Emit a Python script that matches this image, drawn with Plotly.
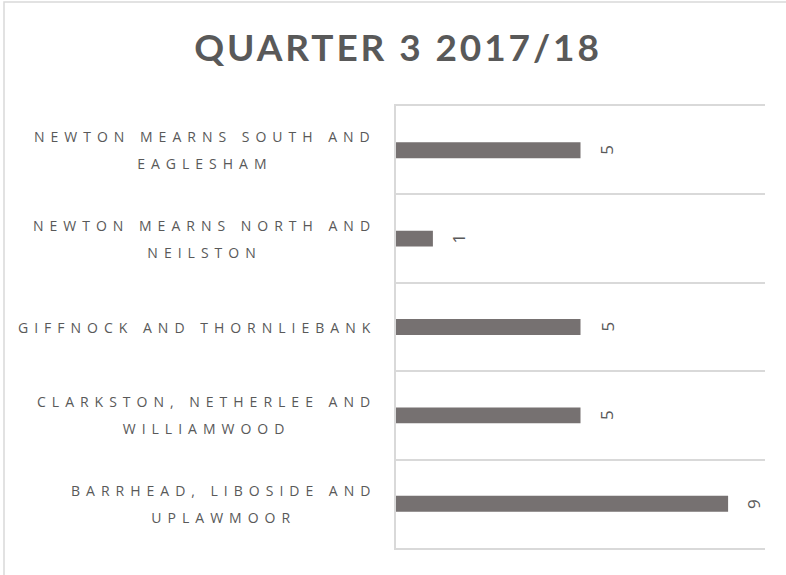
import plotly.graph_objects as go

# ---- data ----
categories = [
    "Barrhead, Liboside and Uplawmoor",
    "Clarkston, Netherlee and Williamwood",
    "Giffnock and Thornliebank",
    "Newton Mearns North and Neilston",
    "Newton Mearns South and Eaglesham",
]
label_line1 = [
    "BARRHEAD, LIBOSIDE AND",
    "CLARKSTON, NETHERLEE AND",
    "GIFFNOCK AND THORNLIEBANK",
    "NEWTON MEARNS NORTH AND",
    "NEWTON MEARNS SOUTH AND",
]
label_line2 = ["UPLAWMOOR", "WILLIAMWOOD", "", "NEILSTON", "EAGLESHAM"]
values = [9, 5, 5, 1, 5]
title_text = "QUARTER 3 2017/18"

# ---- styles ----
TXT = "#595959"
BAR = "#767171"
GRID = "#d9d9d9"
W, H = 786, 575
ML, MR, MT, MB = 396, 21, 106, 27

fig = go.Figure()
fig.add_trace(go.Bar(
    x=values, y=categories, orientation="h",
    marker=dict(color=BAR, line=dict(width=0)),
    hoverinfo="x+y",
))

span = '<span style="font-size:14px;letter-spacing:6px">{}</span>'
annotations = []
for cat, l1, l2 in zip(categories, label_line1, label_line2):
    txt = span.format(l1) + ("<br>" + span.format(l2) if l2 else "")
    annotations.append(dict(
        x=0, xref="paper", y=cat, yref="y", text=txt,
        xanchor="right", yanchor="middle", align="center",
        xshift=-18, showarrow=False,
        font=dict(family="Open Sans", size=20.8, color=TXT),
    ))
for cat, v in zip(categories, values):
    annotations.append(dict(
        x=v, xref="x", y=cat, yref="y", text=str(v),
        textangle=-90, xanchor="center", yanchor="middle",
        xshift=26, showarrow=False,
        font=dict(family="Open Sans", size=17, color=TXT),
    ))

pw = W - ML - MR
ph = H - MT - MB
fig.update_layout(
    width=W, height=H,
    margin=dict(l=ML, r=MR, t=MT, b=MB, pad=0),
    paper_bgcolor="white", plot_bgcolor="white",
    bargap=0.82,
    showlegend=False,
    title=dict(
        text='<span style="letter-spacing:2.9px">' + title_text + "</span>",
        x=0.5 + 5 / W, xref="container", xanchor="center",
        y=1 - 48 / H, yref="container", yanchor="middle",
        font=dict(family="Lato", size=37, color=TXT, weight="bold"),
    ),
    xaxis=dict(range=[0, 10], showgrid=False, zeroline=False,
               showticklabels=False, showline=True, mirror=True,
               linecolor=GRID, linewidth=1.5, ticks=""),
    yaxis=dict(type="category", categoryorder="array", categoryarray=categories,
               range=[-0.5, len(categories) - 0.5], tickson="boundaries",
               showgrid=True, gridcolor=GRID, gridwidth=1.5,
               showline=True, linecolor=GRID, linewidth=1.5,
               showticklabels=False, ticks="", zeroline=False),
    annotations=annotations,
    shapes=[dict(
        type="rect", xref="paper", yref="paper", layer="below",
        x0=(4 - ML) / pw, x1=(W + 10 - ML) / pw,
        y0=(H - MT - (H + 10)) / ph, y1=(H - MB - 2) / ph,
        line=dict(color=GRID, width=1.5), fillcolor="rgba(0,0,0,0)",
    )],
)

fig.write_html("out.html", config={"displayModeBar": False},
               post_script="document.body.style.margin='0';")
